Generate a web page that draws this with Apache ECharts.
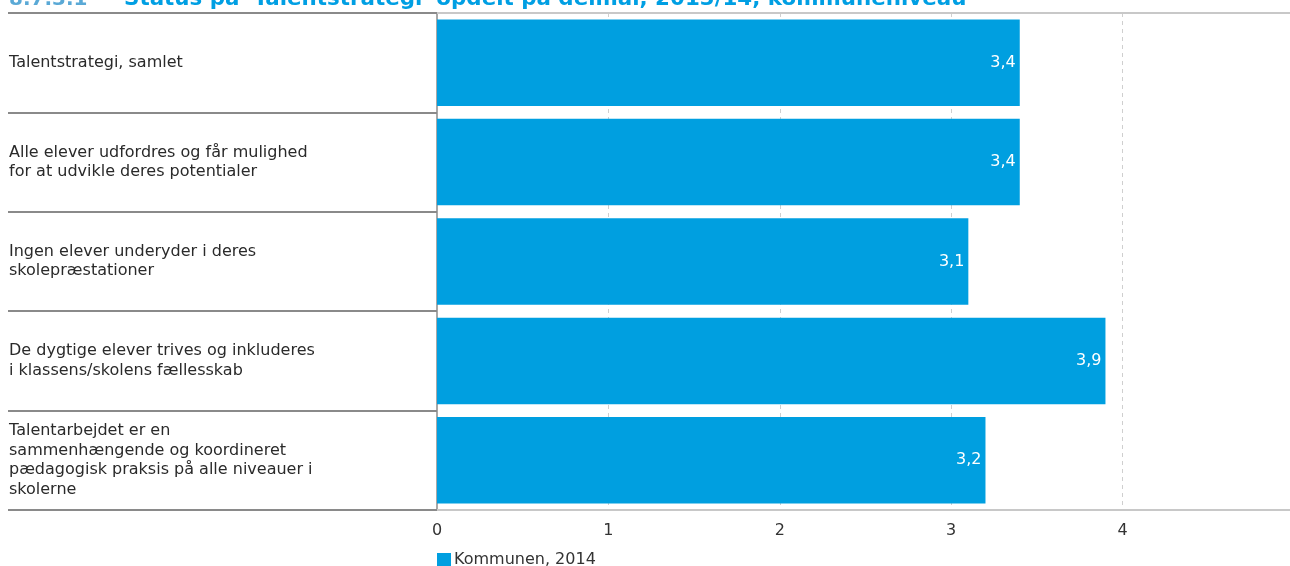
<!DOCTYPE html>
<html>
<head>
<meta charset="utf-8">
<script src="https://cdn.jsdelivr.net/npm/echarts@6/dist/echarts.min.js"></script>
<style>
html,body{margin:0;padding:0;background:#fff;}
#chart{width:1290px;height:566px;}
</style>
</head>
<body>
<div id="chart"></div>
<script>
const categories = [
  'Talentstrategi, samlet',
  'Alle elever udfordres og får mulighed\nfor at udvikle deres potentialer',
  'Ingen elever underyder i deres\nskolepræstationer',
  'De dygtige elever trives og inkluderes\ni klassens/skolens fællesskab',
  'Talentarbejdet er en\nsammenhængende og koordineret\npædagogisk praksis på alle niveauer i\nskolerne'
];
const seriesName = 'Kommunen, 2014';
const values = [3.4, 3.4, 3.1, 3.9, 3.2];
const xTicks = [0, 1, 2, 3, 4, 5];
const titleNumber = '8.7.3.1';
const titleText = "Status på 'Talentstrategi' opdelt på delmål, 2013/14, kommuneniveau";

const FONT = 'DejaVu Sans, Verdana, sans-serif';
const chart = echarts.init(document.getElementById('chart'));
chart.setOption({
  animation: false,
  textStyle: { fontFamily: FONT },
  title: {
    text: '{n|' + titleNumber + '}{t|' + titleText + '}',
    left: 4,
    top: -16,
    textStyle: {
      rich: {
        n: { fontFamily: FONT, fontSize: 20, color: '#5aa9d6', width: 115 },
        t: { fontFamily: FONT, fontSize: 21.4, fontWeight: 'bold', color: '#009fe3' }
      }
    }
  },
  legend: {
    left: 432,
    top: 547,
    itemWidth: 14,
    itemHeight: 14,
    itemGap: 4,
    icon: 'rect',
    textStyle: { fontFamily: FONT, fontSize: 16, color: '#333', padding: [0, 0, 0, -2] },
    data: [seriesName]
  },
  grid: {
    left: 437,
    right: -4,
    top: 13,
    bottom: 56,
    containLabel: false,
    outerBoundsMode: 'none'
  },
  xAxis: [{
    type: 'value',
    min: xTicks[0],
    max: xTicks[xTicks.length - 1],
    interval: 1,
    position: 'bottom',
    axisLine: { show: true, lineStyle: { color: '#c8c8c8', width: 2 } },
    axisTick: { show: false },
    axisLabel: { fontFamily: FONT, fontSize: 16, color: '#333', margin: 13,
      formatter: v => String(v).replace('.', ',') },
    splitLine: { show: true, lineStyle: { color: '#cfcfcf', type: [4, 4], width: 1 } }
  }, {
    type: 'value',
    min: xTicks[0],
    max: xTicks[xTicks.length - 1],
    interval: 1,
    position: 'top',
    axisLine: { show: true, lineStyle: { color: '#c8c8c8', width: 2 } },
    axisTick: { show: false },
    axisLabel: { show: false },
    splitLine: { show: false }
  }],
  yAxis: {
    type: 'category',
    inverse: true,
    data: categories,
    axisLine: { show: true, lineStyle: { color: '#a8a8a8', width: 2 } },
    axisTick: { show: true, length: 429, lineStyle: { color: '#8a8a8a', width: 2 } },
    axisLabel: {
      fontFamily: FONT, fontSize: 16, color: '#2a2a2a', align: 'left',
      margin: 428, lineHeight: 19.5, padding: [8, 0, 0, 0]
    },
    splitLine: { show: false }
  },
  series: [{
    name: seriesName,
    type: 'bar',
    xAxisIndex: 0,
    data: values,
    barCategoryGap: '13%',
    itemStyle: { color: '#009fe0' },
    label: {
      show: true,
      position: 'insideRight',
      distance: 4,
      color: '#fff',
      fontFamily: FONT,
      fontSize: 16,
      formatter: p => p.value.toFixed(1).replace('.', ',')
    }
  }]
});
</script>
</body>
</html>
